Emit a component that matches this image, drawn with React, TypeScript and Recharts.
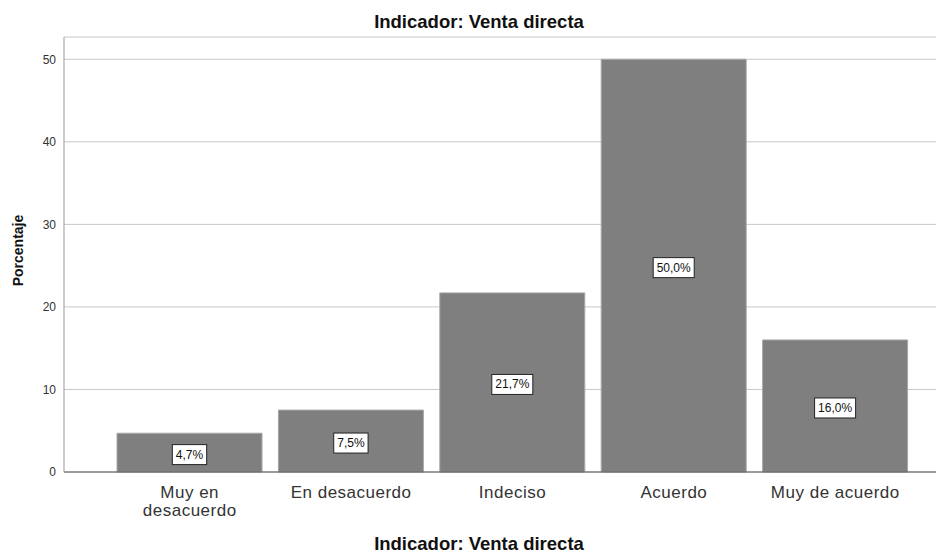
import React from "react";
import {
  Bar,
  BarChart,
  CartesianGrid,
  LabelList,
  XAxis,
  YAxis,
} from "recharts";

const categories = [
  "Muy en desacuerdo",
  "En desacuerdo",
  "Indeciso",
  "Acuerdo",
  "Muy de acuerdo",
];
const percentages = [4.7, 7.5, 21.7, 50.0, 16.0];
const yTicks = [0, 10, 20, 30, 40, 50];

const data = categories.map((name, i) => ({ name, value: percentages[i] }));

const font = "Arial, 'Liberation Sans', sans-serif";

const fmt = (v: number) => `${v.toFixed(1).replace(".", ",")}%`;

// rough Arial widths (em) for the label box
const charW = (c: string) => (c === "," ? 0.278 : c === "%" ? 0.889 : 0.556);

// greedy word wrap, ~9.3px per char at this size
const wrap = (s: string, max = 135) => {
  const lines: string[] = [];
  let cur = "";
  s.split(" ").forEach((w) => {
    const next = cur ? `${cur} ${w}` : w;
    if (cur && next.length * 9.3 > max) {
      lines.push(cur);
      cur = w;
    } else cur = next;
  });
  if (cur) lines.push(cur);
  return lines;
};

const XTick = ({ x, y, payload }: any) => (
  <text
    x={x}
    y={y}
    textAnchor="middle"
    fontSize={17}
    fill="#333"
    fontFamily={font}
    style={{ letterSpacing: 0.5 }}
  >
    {wrap(payload.value).map((line, i) => (
      <tspan key={i} x={x} dy={i === 0 ? 18 : 18}>
        {line}
      </tspan>
    ))}
  </text>
);

const YTitle = ({ viewBox }: any) => {
  const cx = 18;
  const cy = viewBox.y + viewBox.height / 2 - 4;
  return (
    <text
      x={cx}
      y={cy}
      transform={`rotate(-90 ${cx} ${cy})`}
      textAnchor="middle"
      dominantBaseline="central"
      fontSize={14}
      fontWeight="bold"
      fill="#111"
      fontFamily={font}
    >
      Porcentaje
    </text>
  );
};

const BoxLabel = ({ x, y, width, height, value }: any) => {
  const label = fmt(value);
  const cx = x + width / 2;
  const cy = y + height / 2 + 2;
  const w = label.split("").reduce((s, c) => s + charW(c), 0) * 12 + 7;
  const h = 20;
  return (
    <g>
      <rect
        x={cx - w / 2}
        y={cy - h / 2}
        width={w}
        height={h}
        fill="#fff"
        stroke="#222"
        strokeWidth={1}
      />
      <text
        x={cx}
        y={cy}
        textAnchor="middle"
        dominantBaseline="central"
        fontSize={12}
        fill="#111"
        fontFamily={font}
      >
        {label}
      </text>
    </g>
  );
};

export default function App() {
  return (
    <div
      style={{
        position: "absolute",
        left: 0,
        top: 0,
        width: 947,
        height: 554,
        overflow: "hidden",
        background: "#fff",
        fontFamily: font,
      }}
    >
      <div
        style={{
          position: "absolute",
          top: 11,
          left: 0,
          width: 958,
          textAlign: "center",
          fontSize: 18.5,
          lineHeight: "21px",
          fontWeight: "bold",
          color: "#111",
        }}
      >
        Indicador: Venta directa
      </div>
      <BarChart
        width={947}
        height={554}
        data={data}
        margin={{ top: 37, right: 11, left: 24, bottom: 32 }}
        barSize={145}
      >
        <CartesianGrid vertical={false} stroke="#c8c8c8" strokeWidth={1} />
        <XAxis
          dataKey="name"
          height={50}
          padding={{ left: 45, right: 20 }}
          tickLine={false}
          axisLine={{ stroke: "#555" }}
          tick={<XTick />}
          interval={0}
        />
        <YAxis
          width={40}
          domain={[0, 52.7]}
          ticks={yTicks}
          tickLine={false}
          axisLine={{ stroke: "#999" }}
          tick={{ fontSize: 12, fill: "#333", fontFamily: font }}
          tickMargin={2}
          label={<YTitle />}
        />
        <Bar
          dataKey="value"
          fill="#7f7f7f"
          stroke="#a8a8a8"
          strokeWidth={1}
          isAnimationActive={false}
        >
          <LabelList dataKey="value" content={<BoxLabel />} />
        </Bar>
      </BarChart>
      <div
        style={{
          position: "absolute",
          top: 537,
          left: 0,
          width: 958,
          textAlign: "center",
          fontSize: 18.5,
          lineHeight: "14px",
          fontWeight: "bold",
          color: "#111",
        }}
      >
        Indicador: Venta directa
      </div>
    </div>
  );
}
